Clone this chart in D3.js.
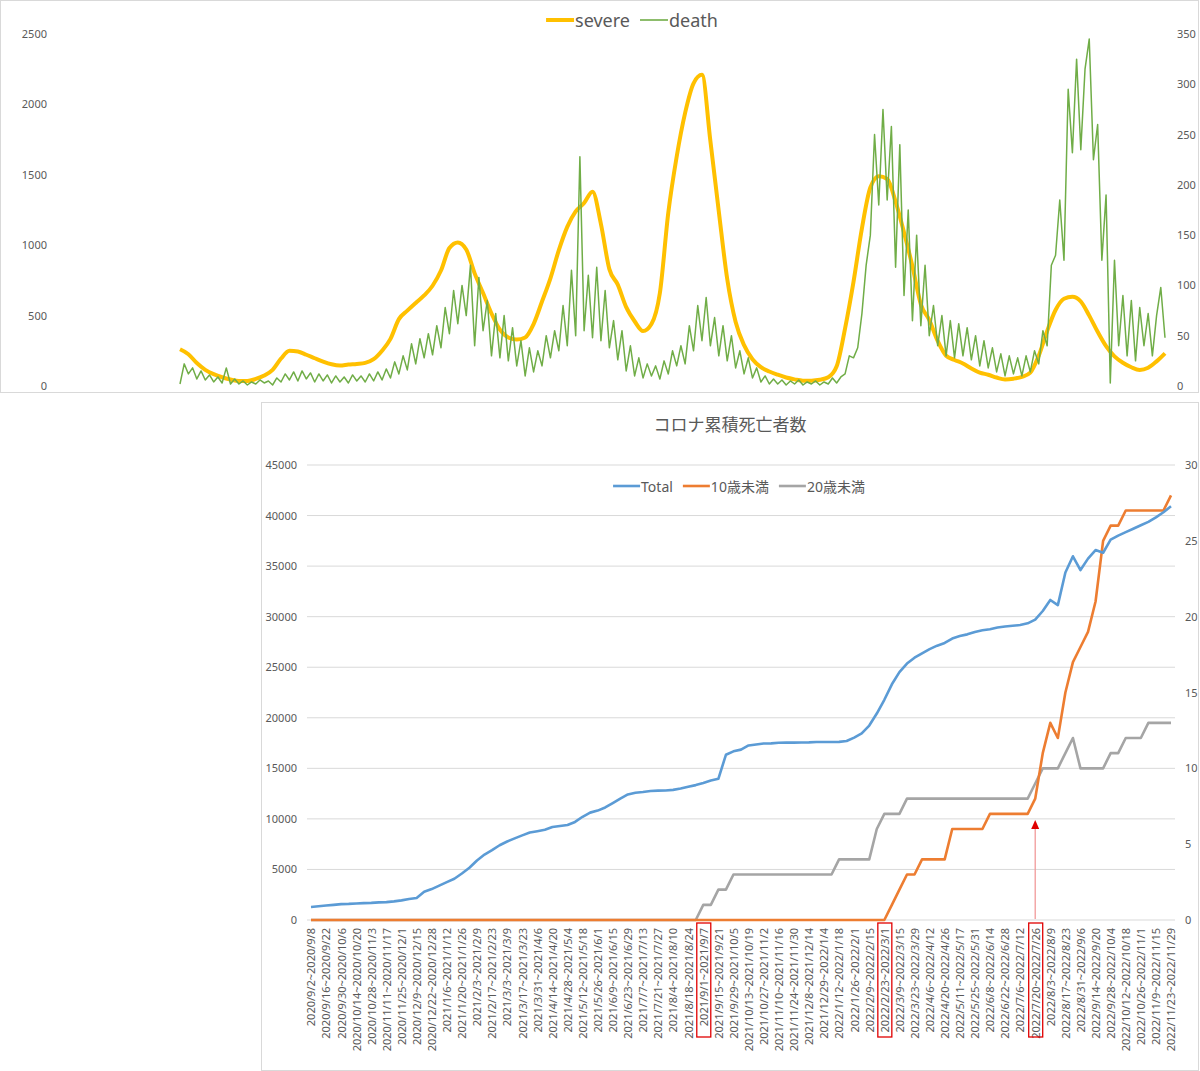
<!DOCTYPE html>
<html>
<head>
<meta charset="utf-8">
<script src="https://cdn.jsdelivr.net/npm/d3@7"></script>
<style>
  body { margin: 0; background: #fff; }
  svg text { font-family: "Noto Sans", "Noto Sans CJK JP", sans-serif; fill: #595959; }
</style>
</head>
<body>
<svg id="chart" width="1200" height="1071"></svg>
<script>
// ---- top chart: severe patients (weekly samples) and daily deaths (half-week samples)
const severe = [
    261, 226, 163, 115, 84, 62, 46, 35, 35, 50,
    74, 115, 195, 250, 245, 222, 197, 173, 154, 145,
    152, 157, 164, 190, 250, 335, 475, 535, 590, 643,
    712, 820, 980, 1020, 970, 800, 660, 515, 400, 345,
    330, 345, 440, 600, 765, 965, 1130, 1240, 1300, 1380,
    1150, 830, 720, 560, 460, 390, 440, 660, 1230, 1630,
    1940, 2150, 2210, 1740, 1240, 760, 455, 290, 190, 134,
    103, 80, 60, 47, 38, 38, 44, 62, 140, 410,
    740, 1120, 1410, 1490, 1470, 1310, 1090, 850, 580, 470,
    320, 215, 185, 160, 125, 95, 80, 60, 47, 52,
    65, 95, 215, 390, 540, 620, 634, 600, 500, 385,
    283, 210, 165, 133, 114, 130, 175, 232
];
const death = [
    2, 22, 12, 18, 7, 15, 6, 11, 4, 9,
    3, 18, 2, 7, 2, 5, 1, 4, 2, 6,
    3, 5, 1, 8, 4, 12, 6, 14, 5, 15,
    7, 13, 4, 12, 5, 11, 3, 10, 4, 9,
    3, 11, 5, 10, 4, 12, 5, 14, 6, 17,
    8, 24, 12, 30, 16, 42, 22, 47, 28, 52,
    31, 60, 38, 78, 52, 95, 62, 100, 70, 120,
    40, 108, 55, 85, 30, 72, 28, 70, 25, 58,
    20, 45, 10, 38, 14, 35, 20, 50, 28, 55,
    35, 80, 40, 115, 50, 228, 55, 110, 48, 118,
    45, 95, 38, 65, 26, 55, 15, 40, 10, 28,
    8, 22, 10, 20, 7, 25, 12, 35, 20, 40,
    22, 60, 35, 80, 45, 88, 40, 68, 30, 60,
    25, 50, 18, 35, 12, 28, 8, 18, 4, 10,
    2, 7, 2, 6, 1, 5, 2, 6, 1, 4,
    2, 5, 1, 4, 2, 8, 3, 9, 12, 30,
    28, 38, 72, 120, 150, 250, 180, 275, 185, 258,
    118, 240, 90, 175, 65, 150, 60, 120, 50, 80,
    40, 70, 30, 65, 28, 62, 30, 58, 26, 50,
    20, 45, 18, 38, 14, 32, 10, 30, 12, 28,
    10, 30, 14, 35, 22, 55, 40, 120, 130, 185,
    125, 295, 232, 325, 235, 315, 345, 225, 260, 125,
    190, 3, 125, 40, 90, 30, 85, 25, 78, 40,
    72, 30, 70, 98, 48
];
const severeStep = 7;     // days between severe samples
const deathStep = 3.5;    // days between death samples
const severeTicks = [0, 500, 1000, 1500, 2000, 2500];
const deathTicks = [0, 50, 100, 150, 200, 250, 300, 350];

// ---- bottom chart: cumulative deaths per week
const weekLabels = [
    "2020/9/2~2020/9/8", "2020/9/16~2020/9/22", "2020/9/30~2020/10/6", "2020/10/14~2020/10/20",
    "2020/10/28~2020/11/3", "2020/11/11~2020/11/17", "2020/11/25~2020/12/1", "2020/12/9~2020/12/15",
    "2020/12/22~2020/12/28", "2021/1/6~2021/1/12", "2021/1/20~2021/1/26", "2021/2/3~2021/2/9",
    "2021/2/17~2021/2/23", "2021/3/3~2021/3/9", "2021/3/17~2021/3/23", "2021/3/31~2021/4/6",
    "2021/4/14~2021/4/20", "2021/4/28~2021/5/4", "2021/5/12~2021/5/18", "2021/5/26~2021/6/1",
    "2021/6/9~2021/6/15", "2021/6/23~2021/6/29", "2021/7/7~2021/7/13", "2021/7/21~2021/7/27",
    "2021/8/4~2021/8/10", "2021/8/18~2021/8/24", "2021/9/1~2021/9/7", "2021/9/15~2021/9/21",
    "2021/9/29~2021/10/5", "2021/10/13~2021/10/19", "2021/10/27~2021/11/2", "2021/11/10~2021/11/16",
    "2021/11/24~2021/11/30", "2021/12/8~2021/12/14", "2021/12/29~2022/1/4", "2022/1/12~2022/1/18",
    "2022/1/26~2022/2/1", "2022/2/9~2022/2/15", "2022/2/23~2022/3/1", "2022/3/9~2022/3/15",
    "2022/3/23~2022/3/29", "2022/4/6~2022/4/12", "2022/4/20~2022/4/26", "2022/5/11~2022/5/17",
    "2022/5/25~2022/5/31", "2022/6/8~2022/6/14", "2022/6/22~2022/6/28", "2022/7/6~2022/7/12",
    "2022/7/20~2022/7/26", "2022/8/3~2022/8/9", "2022/8/17~2022/8/23", "2022/8/31~2022/9/6",
    "2022/9/14~2022/9/20", "2022/9/28~2022/10/4", "2022/10/12~2022/10/18", "2022/10/26~2022/11/1",
    "2022/11/9~2022/11/15", "2022/11/23~2022/11/29"
];
const highlighted = ["2021/9/1~2021/9/7", "2022/2/23~2022/3/1", "2022/7/20~2022/7/26"];
const arrowWeek = 96;

const total = [
    1290, 1360, 1430, 1500, 1570, 1590, 1630, 1670, 1690, 1740,
    1770, 1840, 1940, 2080, 2180, 2790, 3060, 3400, 3740, 4080,
    4600, 5170, 5890, 6470, 6910, 7390, 7760, 8070, 8370, 8650,
    8780, 8920, 9190, 9300, 9400, 9700, 10210, 10620, 10820, 11130,
    11570, 12010, 12420, 12590, 12660, 12760, 12800, 12810, 12870, 13000,
    13170, 13340, 13550, 13790, 13960, 16340, 16680, 16850, 17260, 17360,
    17460, 17470, 17530, 17540, 17540, 17560, 17570, 17600, 17600, 17610,
    17620, 17700, 18040, 18450, 19230, 20420, 21780, 23310, 24510, 25360,
    25940, 26380, 26790, 27130, 27400, 27840, 28080, 28250, 28490, 28660,
    28760, 28930, 29030, 29100, 29170, 29340, 29710, 30560, 31650, 31140,
    34370, 35970, 34610, 35740, 36590, 36320, 37610, 38020, 38360, 38700,
    39040, 39380, 39820, 40330, 40920
];
const under10 = [
    0, 0, 0, 0, 0, 0, 0, 0, 0, 0,
    0, 0, 0, 0, 0, 0, 0, 0, 0, 0,
    0, 0, 0, 0, 0, 0, 0, 0, 0, 0,
    0, 0, 0, 0, 0, 0, 0, 0, 0, 0,
    0, 0, 0, 0, 0, 0, 0, 0, 0, 0,
    0, 0, 0, 0, 0, 0, 0, 0, 0, 0,
    0, 0, 0, 0, 0, 0, 0, 0, 0, 0,
    0, 0, 0, 0, 0, 0, 0, 1, 2, 3,
    3, 4, 4, 4, 4, 6, 6, 6, 6, 6,
    7, 7, 7, 7, 7, 7, 8, 11, 13, 12,
    15, 17, 18, 19, 21, 25, 26, 26, 27, 27,
    27, 27, 27, 27, 28
];
const under20 = [
    0, 0, 0, 0, 0, 0, 0, 0, 0, 0,
    0, 0, 0, 0, 0, 0, 0, 0, 0, 0,
    0, 0, 0, 0, 0, 0, 0, 0, 0, 0,
    0, 0, 0, 0, 0, 0, 0, 0, 0, 0,
    0, 0, 0, 0, 0, 0, 0, 0, 0, 0,
    0, 0, 1, 1, 2, 2, 3, 3, 3, 3,
    3, 3, 3, 3, 3, 3, 3, 3, 3, 3,
    4, 4, 4, 4, 4, 6, 7, 7, 7, 8,
    8, 8, 8, 8, 8, 8, 8, 8, 8, 8,
    8, 8, 8, 8, 8, 8, 9, 10, 10, 10,
    11, 12, 10, 10, 10, 10, 11, 11, 12, 12,
    12, 13, 13, 13, 13
];
const totalTicks = [0, 5000, 10000, 15000, 20000, 25000, 30000, 35000, 40000, 45000];
const ageTicks = [0, 5, 10, 15, 20, 25, 30];

const svg = d3.select("#chart");
const plain = d3.format("d");

// ================= top chart =================
svg.append("rect")
    .attr("x", 0.5).attr("y", 0.5)
    .attr("width", 1198).attr("height", 392)
    .attr("fill", "#fff").attr("stroke", "#d9d9d9");

const lastDay = (severe.length - 1) * severeStep;
const xDay = d3.scaleLinear().domain([0, lastDay]).range([180, 1165]);
const ySevere = d3.scaleLinear().domain([0, 2500]).range([386, 34]);
const yDeath = d3.scaleLinear().domain([0, 350]).range([386, 34]);

const topLeft = svg.append("g")
    .attr("transform", "translate(47,0)")
    .call(d3.axisLeft(ySevere).tickValues(severeTicks).tickFormat(plain).tickSize(0).tickPadding(0));
const topRight = svg.append("g")
    .attr("transform", "translate(1177,0)")
    .call(d3.axisRight(yDeath).tickValues(deathTicks).tickFormat(plain).tickSize(0).tickPadding(0));
[topLeft, topRight].forEach(g => {
    g.select(".domain").remove();
    g.selectAll("text").style("font-size", "11px").style("fill", "#595959");
});

svg.append("path")
    .datum(severe)
    .attr("fill", "none")
    .attr("stroke", "#ffc000")
    .attr("stroke-width", 4)
    .attr("stroke-linejoin", "round")
    .attr("d", d3.line().curve(d3.curveMonotoneX)
        .x((d, i) => xDay(i * severeStep)).y(d => ySevere(d)));

svg.append("path")
    .datum(death)
    .attr("fill", "none")
    .attr("stroke", "#70ad47")
    .attr("stroke-width", 1.5)
    .attr("stroke-linejoin", "round")
    .attr("d", d3.line().x((d, i) => xDay(i * deathStep)).y(d => yDeath(d)));

// legend
function legend(items, cx, cy, fontSize, lineLen) {
    const g = svg.append("g");
    let x = 0;
    items.forEach(it => {
        g.append("line")
            .attr("x1", x).attr("x2", x + lineLen)
            .attr("y1", cy).attr("y2", cy)
            .attr("stroke", it.color).attr("stroke-width", it.width);
        const t = g.append("text")
            .attr("x", x + lineLen + 1).attr("y", cy)
            .attr("dominant-baseline", "central")
            .style("font-size", fontSize + "px")
            .text(it.name);
        x += lineLen + 1 + t.node().getComputedTextLength() + 10;
    });
    const w = x - 10;
    g.attr("transform", `translate(${cx - w / 2},0)`);
}
legend([
    { name: "severe", color: "#ffc000", width: 4 },
    { name: "death", color: "#70ad47", width: 1.6 }
], 632, 20, 18, 28);

// ================= bottom chart =================
svg.append("rect")
    .attr("x", 261.5).attr("y", 402.5)
    .attr("width", 937).attr("height", 668)
    .attr("fill", "#fff").attr("stroke", "#d9d9d9");

svg.append("text")
    .attr("x", 730).attr("y", 424)
    .attr("text-anchor", "middle")
    .attr("dominant-baseline", "central")
    .style("font-size", "17px")
    .text("コロナ累積死亡者数");

const xWeek = d3.scalePoint().domain(d3.range(total.length)).range([311, 1171]);
const yTotal = d3.scaleLinear().domain([0, 45000]).range([920, 465]);
const yAge = d3.scaleLinear().domain([0, 30]).range([920, 465]);

// gridlines
svg.append("g")
    .selectAll("line")
    .data(totalTicks)
    .join("line")
    .attr("x1", 307).attr("x2", 1175)
    .attr("y1", d => yTotal(d)).attr("y2", d => yTotal(d))
    .attr("stroke", "#d9d9d9").attr("stroke-width", 1);

const botLeft = svg.append("g")
    .attr("transform", "translate(297,0)")
    .call(d3.axisLeft(yTotal).tickValues(totalTicks).tickFormat(plain).tickSize(0).tickPadding(0));
const botRight = svg.append("g")
    .attr("transform", "translate(1185,0)")
    .call(d3.axisRight(yAge).tickValues(ageTicks).tickFormat(plain).tickSize(0).tickPadding(0));
[botLeft, botRight].forEach(g => {
    g.select(".domain").remove();
    g.selectAll("text").style("font-size", "11px").style("fill", "#595959");
});

// category axis
const xAxis = svg.append("g")
    .attr("transform", "translate(0,920)")
    .call(d3.axisBottom(xWeek)
        .tickValues(weekLabels.map((d, i) => i * 2))
        .tickFormat(i => weekLabels[i / 2])
        .tickSize(0));
xAxis.select(".domain").remove();
xAxis.selectAll("text")
    .attr("transform", "rotate(-90)")
    .attr("x", -8)
    .attr("y", 0)
    .attr("dy", "0.35em")
    .style("text-anchor", "end")
    .style("font-size", "11px")
    .style("fill", "#595959");

// red boxes around the marked weeks
xAxis.selectAll(".tick")
    .filter(i => highlighted.includes(weekLabels[i / 2]))
    .append("rect")
    .attr("x", -7).attr("y", 3)
    .attr("width", 14).attr("height", 114)
    .attr("fill", "none")
    .attr("stroke", "#e00000")
    .attr("stroke-width", 1.3);

const seriesDefs = [
    { name: "Total", values: total, y: yTotal, color: "#5b9bd5" },
    { name: "10歳未満", values: under10, y: yAge, color: "#ed7d31" },
    { name: "20歳未満", values: under20, y: yAge, color: "#a5a5a5" }
];
// grey and orange go under blue
seriesDefs.slice().reverse().forEach(s => {
    svg.append("path")
        .datum(s.values)
        .attr("fill", "none")
        .attr("stroke", s.color)
        .attr("stroke-width", 2.6)
        .attr("stroke-linejoin", "round")
        .attr("d", d3.line().x((d, i) => xWeek(i)).y(d => s.y(d)));
});

// red arrow
const ax = xWeek(arrowWeek);
svg.append("line")
    .attr("x1", ax).attr("x2", ax)
    .attr("y1", 919).attr("y2", 828)
    .attr("stroke", "#f29a9a").attr("stroke-width", 1.3);
svg.append("path")
    .attr("d", `M${ax - 4},829 L${ax + 4},829 L${ax},820 Z`)
    .attr("fill", "#e00000");

legend(seriesDefs.map(s => ({ name: s.name, color: s.color, width: 2.6 })), 739, 486, 14, 27);
</script>
</body>
</html>
